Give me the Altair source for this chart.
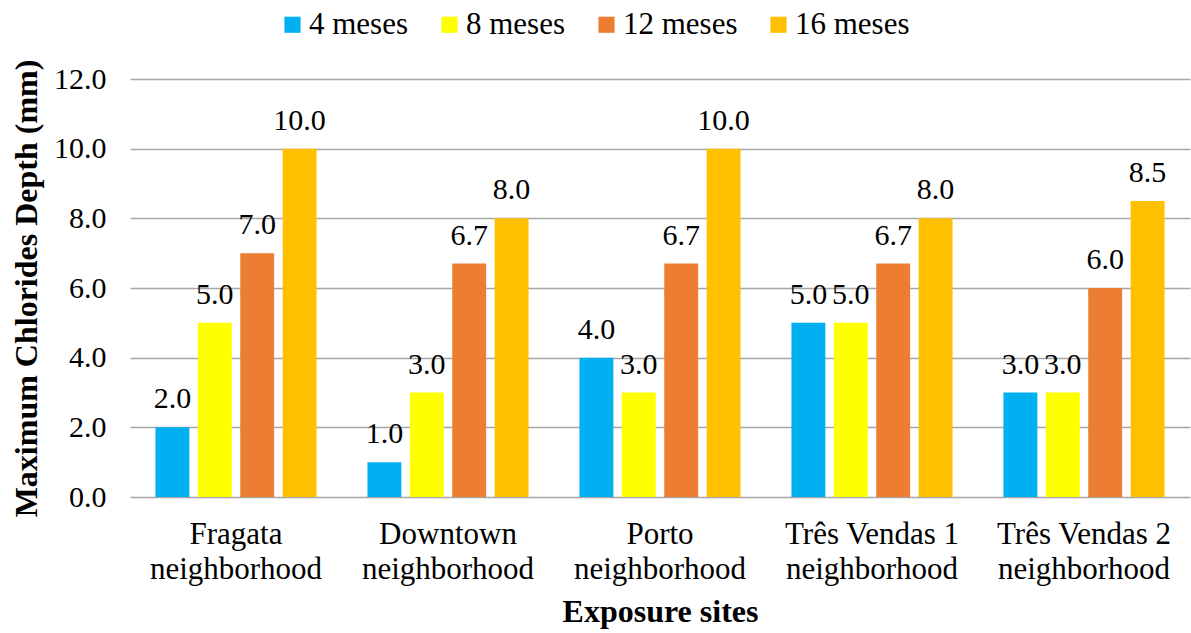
import altair as alt
import pandas as pd

sites = ["Fragata neighborhood", "Downtown neighborhood", "Porto neighborhood",
         "Três Vendas 1 neighborhood", "Três Vendas 2 neighborhood"]
series = ["4 meses", "8 meses", "12 meses", "16 meses"]
colors = ["#00B0F0", "#FFFF00", "#ED7D31", "#FFC000"]
v4 = [2.0, 1.0, 4.0, 5.0, 3.0]
v8 = [5.0, 3.0, 3.0, 5.0, 3.0]
v12 = [7.0, 6.7, 6.7, 6.7, 6.0]
v16 = [10.0, 8.0, 10.0, 8.0, 8.5]

rows = []
for s, vals in zip(series, [v4, v8, v12, v16]):
    for site, v in zip(sites, vals):
        rows.append({"site": site, "series": s, "value": v})
df = pd.DataFrame(rows)

FONT = "Liberation Serif"
FS = 30
TFS = 32

x = alt.X("site:N", sort=sites,
          scale=alt.Scale(paddingInner=0.24, paddingOuter=0.12),
          axis=alt.Axis(title="Exposure sites", labelAngle=0, ticks=False, domain=False,
                        grid=False, labelPadding=22, labelLineHeight=35,
                        labelFont=FONT, titleFont=FONT, labelFontSize=31, titleFontSize=TFS,
                        labelColor="black", titleColor="black", titleFontWeight="bold",
                        labelExpr="[replace(datum.label, ' neighborhood', ''), 'neighborhood']",
                        titlePadding=12))
xo = alt.XOffset("series:N", sort=series, scale=alt.Scale(paddingInner=0.2, paddingOuter=0))
y = alt.Y("value:Q", scale=alt.Scale(domain=[0, 12], nice=False),
          axis=alt.Axis(title="Maximum Chlorides Depth (mm)", values=[0, 2, 4, 6, 8, 10, 12],
                        format=".1f", ticks=False, domain=False, labelPadding=24,
                        labelFont=FONT, titleFont=FONT, labelFontSize=FS, titleFontSize=TFS,
                        labelColor="black", titleColor="black", titleFontWeight="bold",
                        titlePadding=10, gridColor="#A6A6A6", gridWidth=1.3))
color = alt.Color("series:N", sort=series,
                  scale=alt.Scale(domain=series, range=colors),
                  legend=alt.Legend(title=None, orient="none", direction="horizontal",
                                    legendX=147, legendY=-70, symbolType="square",
                                    symbolSize=260, symbolStrokeWidth=0,
                                    labelFont=FONT, labelFontSize=31, labelColor="black",
                                    labelOffset=1, columnPadding=25))

bars = alt.Chart(df).mark_bar().encode(x=x, xOffset=xo, y=y, color=color)
labels = alt.Chart(df).mark_text(baseline="alphabetic", dy=-19, fontSize=FS, font=FONT,
                                  color="black").encode(
    x=alt.X("site:N", sort=sites), xOffset=alt.XOffset("series:N", sort=series),
    y="value:Q", text=alt.Text("value:Q", format=".1f"))

chart = alt.layer(bars, labels).properties(
    width=1060, height=418,
    autosize=alt.AutoSizeParams(type="none"),
    padding={"left": 130, "top": 79, "right": 1, "bottom": 136},
).configure_view(stroke=None)

chart.save("out.html", embed_options={"renderer": "svg", "actions": False})
